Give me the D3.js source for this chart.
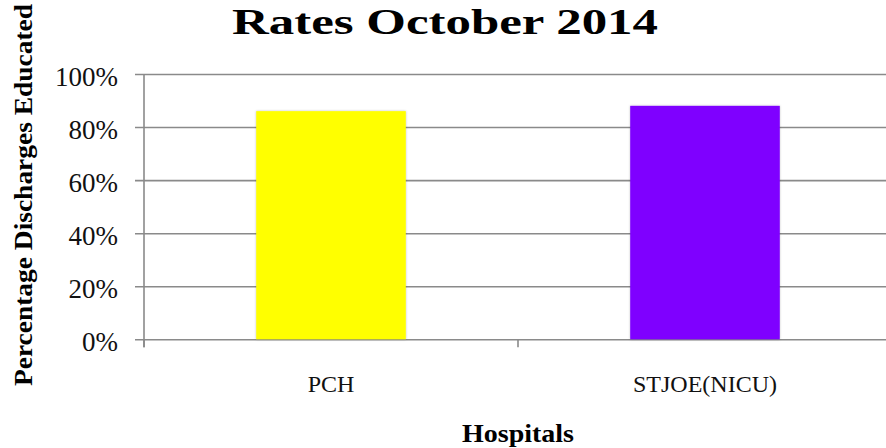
<!DOCTYPE html>
<html>
<head>
<meta charset="utf-8">
<script src="https://cdn.jsdelivr.net/npm/d3@7"></script>
<style>
  html, body { margin: 0; padding: 0; background: #fff; }
  svg { display: block; }
</style>
</head>
<body>
<svg id="chart" width="886" height="448"></svg>
<script>
const categories = ["PCH", "STJOE(NICU)"];
const values = [0.86, 0.88];
const barColors = ["#FFFF00", "#7F00FF"];
const yTicks = [0, 0.2, 0.4, 0.6, 0.8, 1.0];
const titleText = "Rates October 2014";
const yLabelText = "Percentage Discharges Educated";
const xLabelText = "Hospitals";

const W = 886, H = 448;
const margin = { left: 144, right: -6, top: 74, bottom: 108.7 };
const plotL = margin.left, plotR = W - margin.right;
const plotT = margin.top, plotB = H - margin.bottom;

const svg = d3.select("#chart");
const serif = "'Liberation Serif', 'DejaVu Serif', serif";
const gridColor = "#8a8a8a";

const defs = svg.append("defs");
const f = defs.append("filter").attr("id", "sh").attr("x", "-10%").attr("y", "-10%").attr("width", "120%").attr("height", "120%");
f.append("feDropShadow").attr("dx", 0).attr("dy", 0).attr("stdDeviation", 1.2).attr("flood-color", "#000").attr("flood-opacity", 0.25);

const y = d3.scaleLinear().domain([0, 1]).range([plotB, plotT]);
const xOuter = d3.scaleBand().domain(categories).range([plotL, plotR]).padding(0);
const x = d3.scaleBand().domain(categories).range([plotL, plotR]).paddingInner(0.6).paddingOuter(0.3);

// y axis with gridlines
const yAxis = d3.axisLeft(y).tickValues(yTicks).tickFormat(d3.format(".0%"))
  .tickSize(-(plotR - plotL)).tickPadding(0);
const gy = svg.append("g").attr("transform", `translate(${plotL},0)`).call(yAxis);
gy.attr("font-family", null).attr("font-size", null);
gy.select(".domain").remove();
gy.selectAll(".tick line").attr("x1", -9).attr("stroke", gridColor).attr("stroke-width", 1.6);
gy.selectAll(".tick text")
  .attr("x", -26).attr("dy", "0.42em")
  .style("font-family", serif).style("font-size", "27px").attr("fill", "#111");

// y axis vertical line
svg.append("line").attr("x1", plotL).attr("x2", plotL).attr("y1", plotT).attr("y2", plotB + 8)
  .attr("stroke", gridColor).attr("stroke-width", 1.6);

// x axis
const gx = svg.append("g").attr("transform", `translate(0,${plotB})`);
const bounds = [plotL].concat(categories.map(c => xOuter(c) + xOuter.bandwidth()));
gx.selectAll("line.bt").data(bounds).join("line").attr("class", "bt")
  .attr("x1", d => d).attr("x2", d => d).attr("y1", 0).attr("y2", 8)
  .attr("stroke", gridColor).attr("stroke-width", 1.6);
gx.selectAll("text").data(categories).join("text")
  .attr("x", d => xOuter(d) + xOuter.bandwidth() / 2).attr("y", 53)
  .attr("text-anchor", "middle").style("font-family", serif).style("font-size", "24px").attr("fill", "#111")
  .text(d => d);

// bars
svg.append("g").selectAll("rect").data(categories).join("rect")
  .attr("x", d => x(d)).attr("width", x.bandwidth())
  .attr("y", (d, i) => y(values[i])).attr("height", (d, i) => y(0) - y(values[i]))
  .attr("fill", (d, i) => barColors[i]).attr("filter", "url(#sh)");

// title
svg.append("text").attr("x", 445).attr("y", 34).attr("text-anchor", "middle")
  .style("font-family", serif).style("font-weight", "bold").style("font-size", "36px")
  .attr("textLength", 426).attr("lengthAdjust", "spacingAndGlyphs").attr("fill", "#000")
  .text(titleText);

// y label
svg.append("text").attr("transform", `translate(32,195) rotate(-90)`)
  .attr("text-anchor", "middle").style("font-family", serif).style("font-weight", "bold").style("font-size", "25px")
  .attr("textLength", 382).attr("lengthAdjust", "spacingAndGlyphs").attr("fill", "#000")
  .text(yLabelText);

// x label
svg.append("text").attr("x", (plotL + plotR) / 2).attr("y", 442).attr("text-anchor", "middle")
  .style("font-family", serif).style("font-weight", "bold").style("font-size", "25px")
  .attr("textLength", 112).attr("lengthAdjust", "spacingAndGlyphs").attr("fill", "#000")
  .text(xLabelText);
</script>
</body>
</html>
